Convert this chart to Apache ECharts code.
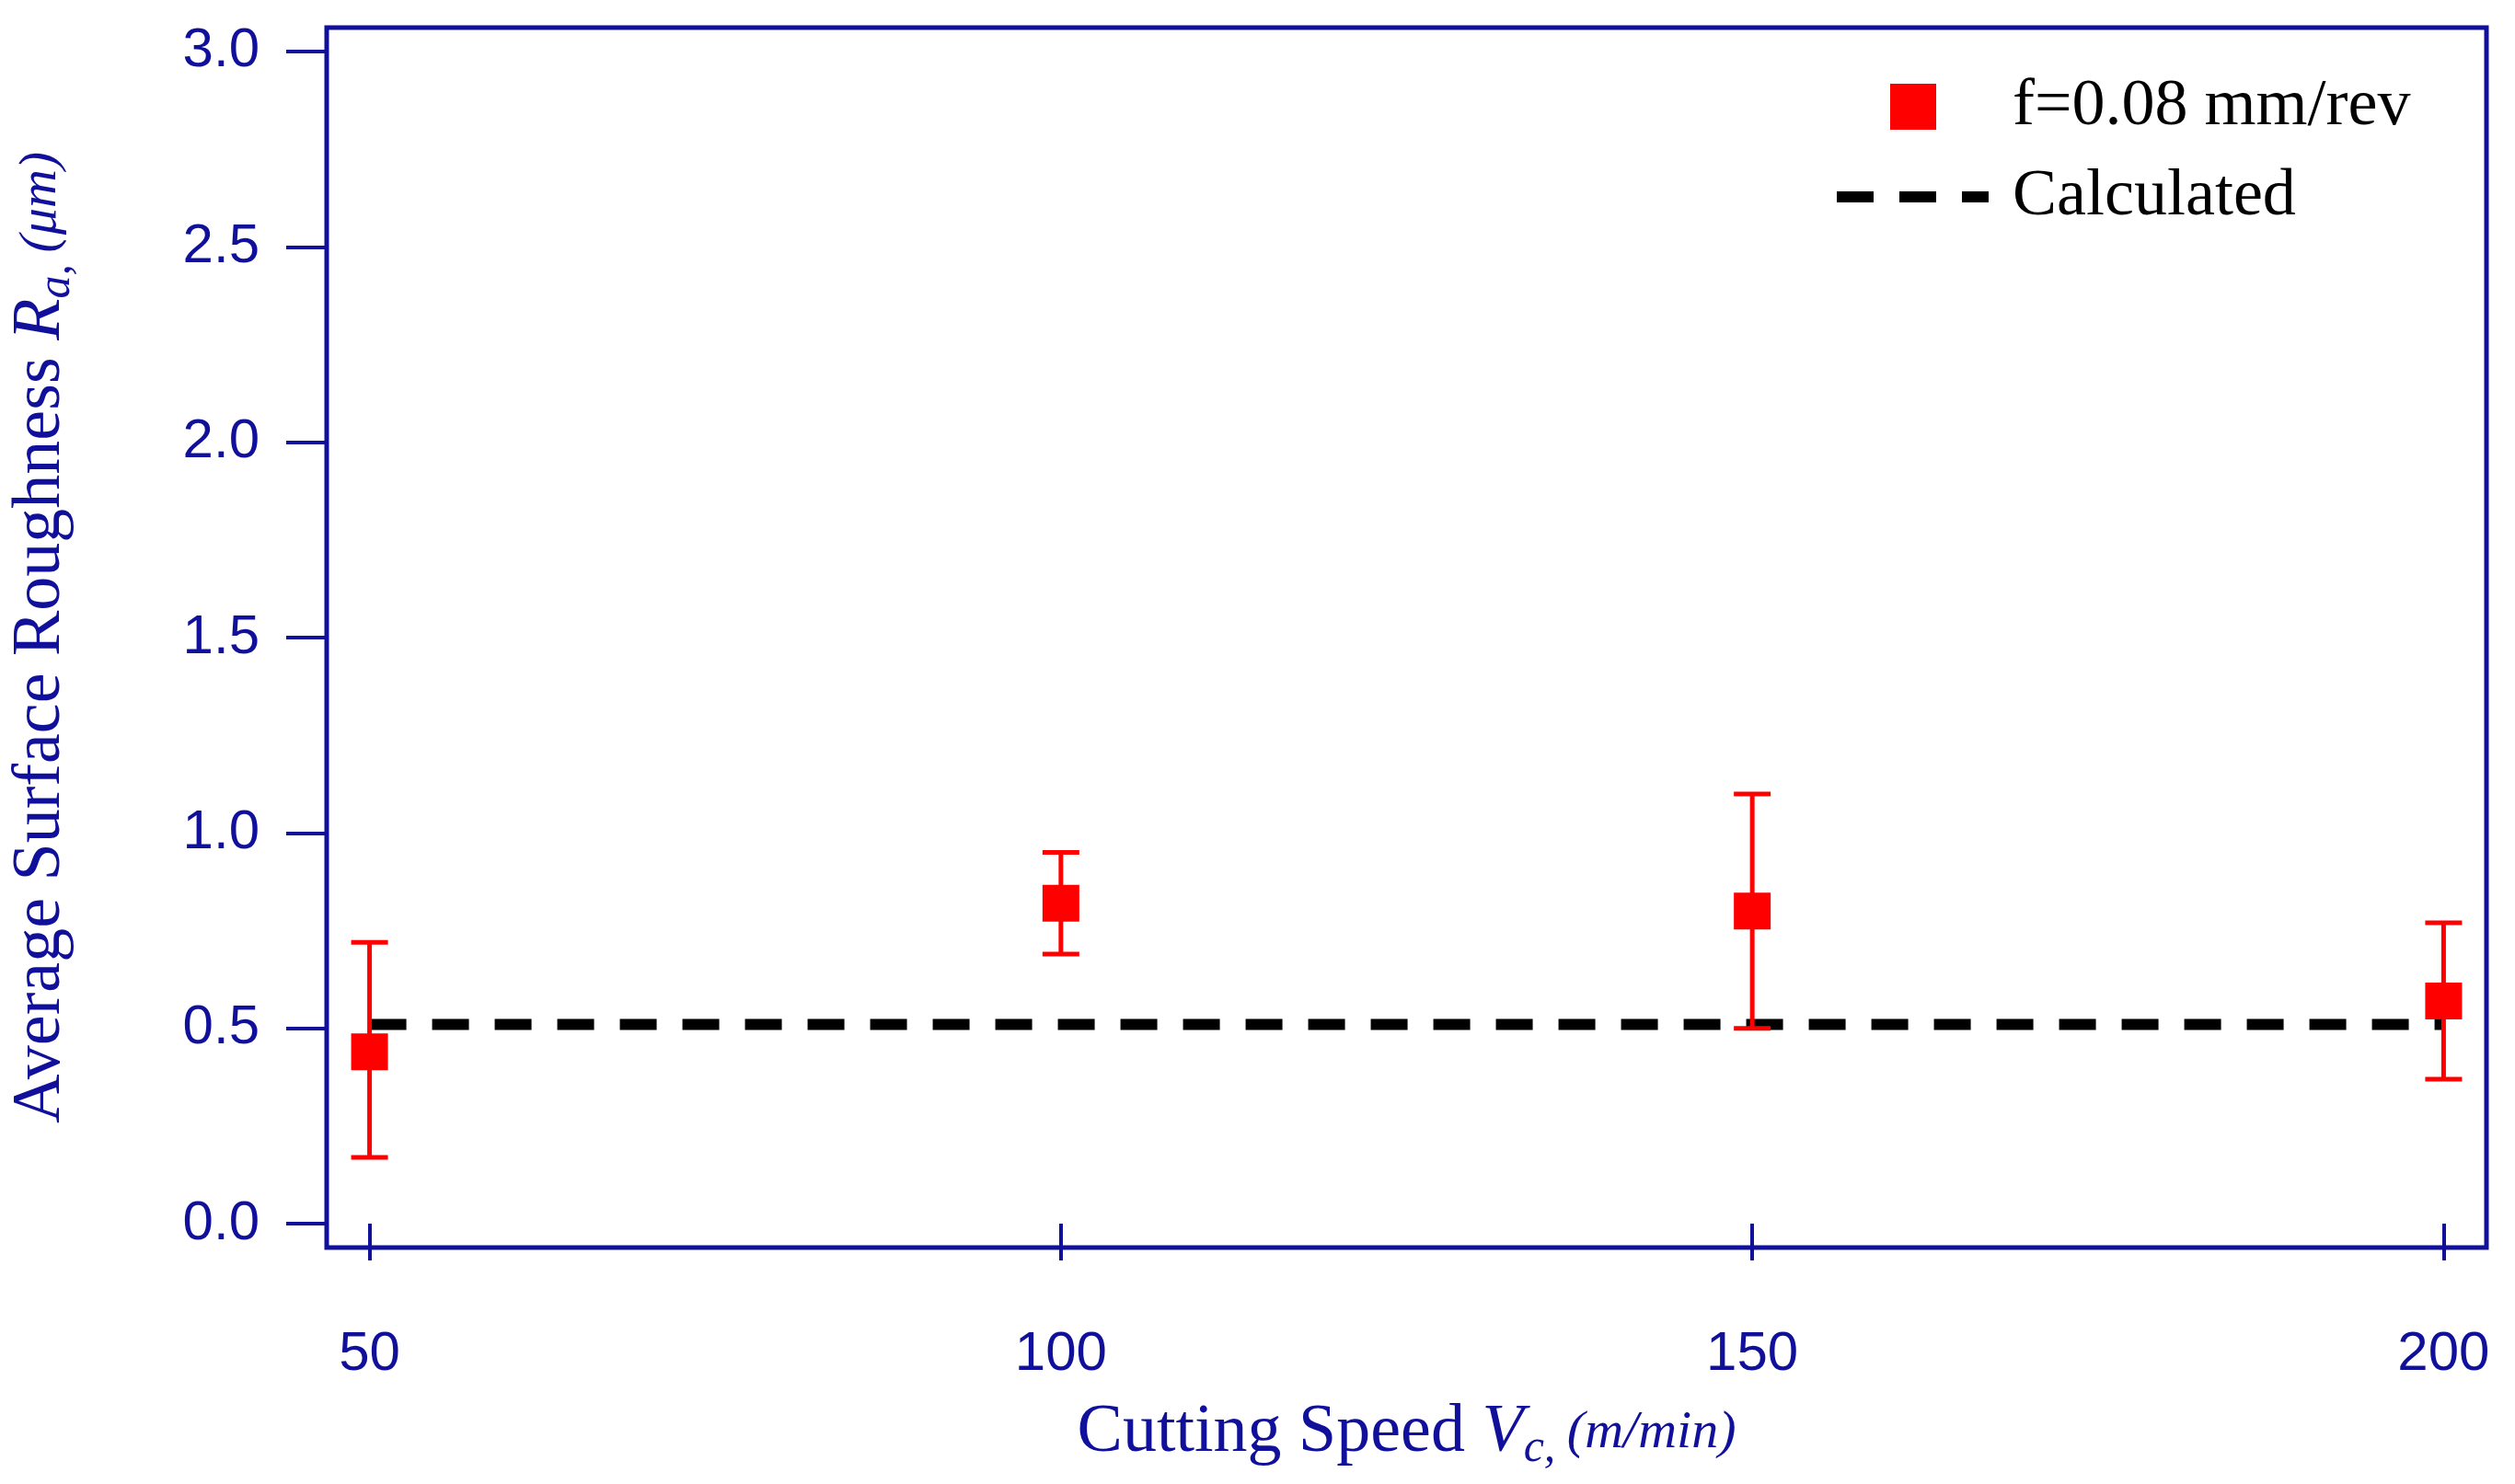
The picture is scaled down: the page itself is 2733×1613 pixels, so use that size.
<!DOCTYPE html>
<html><head><meta charset="utf-8">
<script src="https://cdn.jsdelivr.net/npm/echarts@6/dist/echarts.min.js"></script>
<style>html,body{margin:0;padding:0;background:#fff}#c{width:2733px;height:1613px}</style>
</head><body><div id="c"></div>
<script>
const speeds = [50, 100, 150, 200];
const roughness = [0.44, 0.82, 0.80, 0.57];
const errLow = [0.17, 0.69, 0.50, 0.37];
const errHigh = [0.72, 0.95, 1.10, 0.77];
const calculated = 0.51;
const yTicks = [0, 0.5, 1.0, 1.5, 2.0, 2.5, 3.0];
const xTicks = [50, 100, 150, 200];
const legendNames = ['f=0.08 mm/rev', 'Calculated'];

const AX = '#10109a';
const richT = {
  a: {fontFamily: 'Liberation Serif', fontSize: 74, color: AX},
  b: {fontFamily: 'Liberation Serif', fontSize: 74, fontStyle: 'italic', color: AX},
  s: {fontFamily: 'Liberation Serif', fontSize: 50, fontStyle: 'italic', color: AX, padding: [34, 0, 0, 0]},
  c: {fontFamily: 'Liberation Serif', fontSize: 58, fontStyle: 'italic', color: AX}
};
const chart = echarts.init(document.getElementById('c'));
chart.setOption({
  animation: false,
  grid: {left: 331, right: 31, top: 30, bottom: 257, show: true, borderColor: AX, borderWidth: 5},
  graphic: [
    {type: 'rect', shape: {x: 2054, y: 91, width: 50, height: 50}, style: {fill: '#ff0000'}},
    {type: 'text', x: 2187, y: 116, style: {text: legendNames[0], font: '72px "Liberation Serif"', fill: '#000', verticalAlign: 'middle'}},
    {type: 'line', shape: {x1: 1996, y1: 214, x2: 2161, y2: 214}, style: {stroke: '#000', lineWidth: 12, lineDash: [40, 28]}},
    {type: 'text', x: 2187, y: 214, style: {text: legendNames[1], font: '72px "Liberation Serif"', fill: '#000', verticalAlign: 'middle'}}
  ],
  xAxis: {
    type: 'value', min: 46.9, max: 203.1,
    axisLine: {show: false},
    axisTick: {show: true, length: 40, lineStyle: {color: AX, width: 4}, customValues: xTicks},
    axisLabel: {color: AX, fontFamily: 'Liberation Sans', fontSize: 60, margin: 86, customValues: xTicks, formatter: v => String(v)},
    splitLine: {show: false},
    name: '{a|Cutting Speed }{b|V}{s|c, }{c|(m/min)}', nameLocation: 'middle', nameGap: 160,
    nameTextStyle: {rich: richT}
  },
  yAxis: {
    type: 'value', min: -0.061, max: 3.061,
    axisLine: {show: false},
    axisTick: {show: true, length: 44, lineStyle: {color: AX, width: 4}, customValues: yTicks},
    axisLabel: {color: AX, fontFamily: 'Liberation Sans', fontSize: 60, margin: 73, customValues: yTicks, formatter: v => v.toFixed(1)},
    splitLine: {show: false},
    name: '{a|Average Surface Roughness }{b|R}{s|a, }{c|(μm)}', nameLocation: 'middle', nameGap: 268, nameRotate: 90,
    nameTextStyle: {rich: richT}
  },
  series: [
    {
      name: 'Calculated', type: 'line', symbol: 'none',
      data: [[50, calculated], [200, calculated]],
      lineStyle: {color: '#000', width: 12, type: [40, 28]}, itemStyle: {color: '#000'}, z: 3
    },
    {
      name: 'err', type: 'custom',
      data: speeds.map((s, i) => [s, errLow[i], errHigh[i]]),
      renderItem: (params, api) => {
        const lo = api.coord([api.value(0), api.value(1)]);
        const hi = api.coord([api.value(0), api.value(2)]);
        const w = 20;
        const st = {stroke: '#ff0000', lineWidth: 5};
        return {type: 'group', children: [
          {type: 'line', shape: {x1: lo[0], y1: lo[1], x2: hi[0], y2: hi[1]}, style: st},
          {type: 'line', shape: {x1: lo[0] - w, y1: lo[1], x2: lo[0] + w, y2: lo[1]}, style: st},
          {type: 'line', shape: {x1: hi[0] - w, y1: hi[1], x2: hi[0] + w, y2: hi[1]}, style: st}
        ]};
      }, z: 4
    },
    {
      name: 'f=0.08 mm/rev', type: 'scatter', symbol: 'rect', symbolSize: 40,
      data: speeds.map((s, i) => [s, roughness[i]]),
      itemStyle: {color: '#ff0000', opacity: 1}, z: 5
    }
  ]
});
</script></body></html>
